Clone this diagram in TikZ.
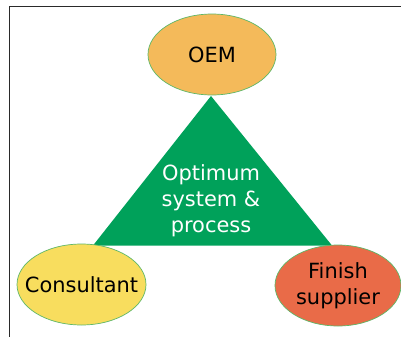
\documentclass[tikz,border=0pt]{standalone}
\usepackage{fontspec}
\setmainfont{DejaVu Sans}
\usetikzlibrary{shapes.geometric}
\definecolor{oemfill}{HTML}{F4BA5A}
\definecolor{consfill}{HTML}{F8DD5E}
\definecolor{finfill}{HTML}{E96B48}
\definecolor{trifill}{HTML}{00A15A}
\definecolor{rim}{HTML}{5DB768}
\definecolor{framec}{HTML}{2A2A2A}
\tikzset{
  labeltext/.style={align=center, font=\fontsize{21}{26}\selectfont},
  party/.style={ellipse, draw=rim, line width=0.7pt, minimum width=128bp,
    minimum height=81bp, inner sep=0pt,
    label={[labeltext, text=black]center:#1}},
  core/.style={labeltext, text=white},
}
\begin{document}
\begin{tikzpicture}[x=1bp,y=-1bp]
  \useasboundingbox (0,0) rectangle (401,337);
  % open frame: top and left edges
  \coordinate (ftl) at (9.5,6.5);
  \coordinate (ftr) at (401,6.5);
  \coordinate (fbl) at (9.5,337);
  \draw[framec, line width=1.8pt] (fbl) -- (ftl) -- (ftr);
  % central triangle
  \coordinate (apex) at (211,96);
  \coordinate (bl) at (93,245.5);
  \coordinate (br) at (332,245.5);
  \fill[trifill] (apex) -- (br) -- (bl) -- cycle;
  \node[core] (goal) at (211,201) {Optimum\\system \&\\process};
  % the three parties
  \node[party={OEM}, fill=oemfill] (oem) at (212,54.5) {};
  \node[party={Consultant}, fill=consfill, minimum width=129bp] (cons) at (81.5,284.5) {};
  \node[party={Finish\\supplier}, fill=finfill, minimum width=126bp] (fin) at (338,285.5) {};
\end{tikzpicture}
\end{document}
